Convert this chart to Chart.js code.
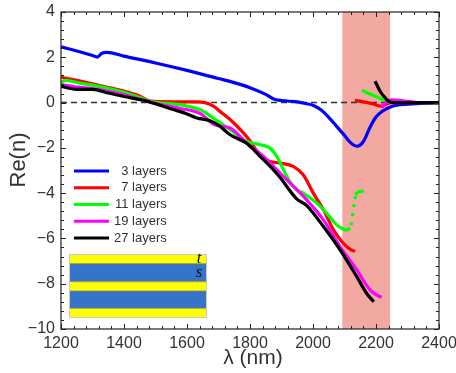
<!DOCTYPE html>
<html>
<head>
<meta charset="utf-8">
<script src="https://cdn.jsdelivr.net/npm/chart.js@4.4.1/dist/chart.umd.min.js"></script>
<style>
  html, body { margin: 0; padding: 0; background: #fff; }
</style>
</head>
<body>
<canvas id="chart" width="456" height="373"></canvas>
<script>
// wavelength (nm) and Re(n) for each stack
const nm3 = [1200,1250,1300,1315,1330,1345,1400,1500,1600,1700,1750,1800,1850,1875,1900,1950,1980,2000,2025,2050,2075,2100,2120,2140,2160,2180,2200,2220,2250,2300,2350,2400];
const re3 = [2.46,2.28,2.08,2.01,2.18,2.22,2.05,1.75,1.42,1.06,0.88,0.66,0.36,0.16,0.09,0.03,-0.05,-0.12,-0.32,-0.65,-1.05,-1.45,-1.78,-1.93,-1.72,-1.12,-0.64,-0.38,-0.17,-0.07,-0.03,-0.01];

const nm7 = [1200,1250,1290,1340,1390,1446,1480,1520,1580,1630,1657,1684,1710,1737,1779,1805,1832,1863,1895,1937,1969,2001,2033,2065,2096,2115,2133];
const re7 = [1.12,0.98,0.86,0.70,0.54,0.31,0.08,0.04,0.03,0.03,0.0,-0.16,-0.45,-0.75,-1.34,-1.78,-2.37,-2.6,-2.67,-2.82,-3.19,-4.0,-4.73,-5.62,-6.21,-6.45,-6.58];
const nm7u = [2133,2160,2190,2218,2235,2250,2400];
const re7u = [0.10,0.03,-0.06,-0.16,-0.05,0.0,0.0];

const nm11 = [1200,1215,1260,1300,1350,1400,1450,1480,1520,1578,1641,1683,1737,1789,1832,1863,1885,1906,1927,1948,1969,2012,2043,2075,2095,2107,2118];
const re11 = [0.90,0.98,0.86,0.77,0.63,0.45,0.22,0.06,-0.02,-0.10,-0.31,-0.68,-1.19,-1.71,-1.86,-2.0,-2.37,-2.96,-3.5,-3.85,-4.0,-4.44,-4.88,-5.4,-5.58,-5.62,-5.55];
const nm11d = [2122,2126,2130,2134,2138,2144,2150,2156];
const re11d = [-5.35,-4.95,-4.55,-4.2,-4.02,-3.95,-3.92,-3.92];
const nm11u = [2155,2185,2218,2240,2250];
const re11u = [0.54,0.36,0.16,0.03,0.0];

const nm19 = [1200,1250,1300,1350,1400,1450,1480,1520,1578,1641,1684,1710,1737,1789,1842,1874,1927,1980,2033,2086,2139,2181,2205,2218];
const re19 = [0.80,0.68,0.62,0.50,0.34,0.15,0.04,-0.10,-0.26,-0.48,-0.95,-1.05,-1.12,-1.78,-2.37,-2.82,-3.55,-4.3,-5.18,-6.36,-7.39,-8.27,-8.52,-8.6];
const nm19u = [2218,2234,2250,2275,2300,2330];
const re19u = [-0.22,0.04,0.12,0.10,0.05,0.0];

const nm27 = [1200,1230,1250,1300,1350,1400,1450,1472,1520,1557,1600,1631,1673,1700,1737,1789,1832,1874,1895,1948,1980,2033,2086,2139,2170,2193];
const re27 = [0.72,0.62,0.58,0.58,0.42,0.27,0.13,0.06,-0.14,-0.31,-0.50,-0.68,-0.80,-1.0,-1.42,-1.80,-2.37,-2.96,-3.3,-4.25,-4.55,-5.47,-6.5,-7.69,-8.42,-8.8];
const nm27u = [2197,2205,2213,2225,2238,2250,2300,2350,2400];
const re27u = [0.94,0.72,0.50,0.28,0.08,0.0,0.0,0.0,0.0];

const labels = ['3 layers', '7 layers', '11 layers', '19 layers', '27 layers'];
const colors = ['#0000ff', '#ff0000', '#00ff00', '#ff00ff', '#000000'];
const bandNm = [2093, 2245];

const FONT = "'Liberation Sans', Arial, sans-serif";

function pts(xs, ys) {
  return xs.map((x, i) => ({ x: x, y: ys[i] }));
}

function curve(xs, ys, color, order, label) {
  return {
    label: label,
    data: pts(xs, ys),
    borderColor: color,
    backgroundColor: color,
    borderWidth: 3.2,
    pointRadius: 0,
    cubicInterpolationMode: 'monotone',
    order: order
  };
}

const datasets = [
  curve(nm27, re27, colors[4], 1, labels[4]),
  curve(nm27u, re27u, colors[4], 1),
  curve(nm19, re19, colors[3], 2, labels[3]),
  curve(nm19u, re19u, colors[3], 2),
  curve(nm11, re11, colors[2], 3, labels[2]),
  curve(nm11u, re11u, colors[2], 3),
  {
    data: pts(nm11d, re11d),
    showLine: false,
    pointRadius: 1.8,
    pointBorderWidth: 0,
    pointBackgroundColor: colors[2],
    order: 3
  },
  curve(nm7, re7, colors[1], 4, labels[1]),
  curve(nm7u, re7u, colors[1], 4),
  curve(nm3, re3, colors[0], 5, labels[0]),
  {
    data: pts([1200, 2400], [0, 0]),
    borderColor: '#333',
    borderWidth: 1.5,
    borderDash: [6, 4],
    pointRadius: 0,
    order: 10
  }
];

const decorations = {
  id: 'decorations',
  beforeDatasetsDraw(chart) {
    const { ctx, chartArea: a, scales: { x } } = chart;
    const x0 = x.getPixelForValue(bandNm[0]);
    const x1 = x.getPixelForValue(bandNm[1]);
    ctx.save();
    ctx.fillStyle = '#f1a9a2';
    ctx.fillRect(x0, a.top, x1 - x0, a.bottom - a.top);
    ctx.restore();
  },
  afterDraw(chart) {
    const { ctx, chartArea: a, scales: { x, y } } = chart;
    ctx.save();

    // frame and inward ticks on all four sides
    ctx.strokeStyle = '#222';
    ctx.lineWidth = 1.2;
    ctx.strokeRect(a.left, a.top, a.right - a.left, a.bottom - a.top);
    ctx.lineWidth = 1;
    ctx.beginPath();
    for (let i = 0; i <= 30; i++) {
      const px = Math.round(x.getPixelForValue(1200 + i * 40)) + 0.5;
      const len = i % 5 === 0 ? 5 : 3;
      ctx.moveTo(px, a.bottom); ctx.lineTo(px, a.bottom - len);
      ctx.moveTo(px, a.top); ctx.lineTo(px, a.top + len);
    }
    for (let i = 0; i <= 35; i++) {
      const py = Math.round(y.getPixelForValue(-10 + i * 0.4)) + 0.5;
      const len = i % 5 === 0 ? 5 : 3;
      ctx.moveTo(a.left, py); ctx.lineTo(a.left + len, py);
      ctx.moveTo(a.right, py); ctx.lineTo(a.right - len, py);
    }
    ctx.stroke();

    // axis titles
    ctx.fillStyle = '#333';
    ctx.font = '22px ' + FONT;
    ctx.textAlign = 'center';
    ctx.textBaseline = 'middle';
    ctx.save();
    ctx.translate(19, 160);
    ctx.rotate(-Math.PI / 2);
    ctx.fillText('Re(n)', 0, 0);
    ctx.restore();
    ctx.font = '21px ' + FONT;
    ctx.fillText('\u03bb (nm)', 253, 358);

    // legend
    const entries = chart.data.datasets.filter(d => d.label);
    entries.sort((p, q) => labels.indexOf(p.label) - labels.indexOf(q.label));
    ctx.font = '13px ' + FONT;
    let textW = 0;
    entries.forEach(d => { textW = Math.max(textW, ctx.measureText(d.label).width); });
    ctx.textAlign = 'right';
    entries.forEach((d, i) => {
      const ly = 171 + i * 16.75;
      ctx.strokeStyle = d.borderColor;
      ctx.lineWidth = 3;
      ctx.beginPath();
      ctx.moveTo(74, ly); ctx.lineTo(109, ly);
      ctx.stroke();
      ctx.fillStyle = '#333';
      ctx.fillText(d.label, 114 + textW, ly);
    });

    // layer stack sketch
    const L = 69.5, R = 206.5;
    const rows = [[254.5, 263.7, '#ffff00'], [263.7, 281.7, '#3574c9'], [281.7, 291, '#ffff00'], [291, 308.3, '#3574c9'], [308.3, 317.5, '#ffff00']];
    rows.forEach(r => {
      ctx.fillStyle = r[2];
      ctx.fillRect(L, r[0], R - L, r[1] - r[0]);
    });
    ctx.strokeStyle = '#8a8a50';
    ctx.lineWidth = 0.8;
    ctx.beginPath();
    [263.7, 281.7, 291, 308.3].forEach(v => { ctx.moveTo(L, v); ctx.lineTo(R, v); });
    ctx.stroke();
    ctx.strokeStyle = '#c8c8c8';
    ctx.lineWidth = 1;
    ctx.strokeRect(L, 254.5, R - L, 63);
    ctx.fillStyle = '#111';
    ctx.font = 'italic 17px "Liberation Serif", "Times New Roman", serif';
    ctx.textAlign = 'center';
    ctx.textBaseline = 'alphabetic';
    ctx.fillText('t', 199, 263);
    ctx.fillText('s', 199, 277);

    ctx.restore();
  }
};

const chart = new Chart(document.getElementById('chart').getContext('2d'), {
  type: 'line',
  data: { datasets: datasets },
  options: {
    responsive: false,
    animation: false,
    layout: { padding: { left: 0, right: 17, top: 12, bottom: 0 } },
    plugins: { legend: { display: false }, tooltip: { enabled: false } },
    scales: {
      x: {
        type: 'linear',
        min: 1200,
        max: 2400,
        grid: { display: false, drawTicks: false },
        border: { display: false },
        ticks: {
          stepSize: 200,
          padding: 5,
          color: '#333',
          font: { family: FONT, size: 16 },
          callback: v => String(v)
        },
        afterFit(scale) {
          scale.height = 44;
          scale.paddingLeft = 0;
          scale.paddingRight = 0;
        }
      },
      y: {
        min: -10,
        max: 4,
        grid: { display: false, drawTicks: false },
        border: { display: false },
        ticks: {
          stepSize: 2,
          padding: 6,
          color: '#333',
          font: { family: FONT, size: 16 },
          callback: v => (v < 0 ? '\u2212' + Math.abs(v) : String(v))
        },
        afterFit(scale) {
          scale.width = 61;
          scale.paddingTop = 0;
          scale.paddingBottom = 0;
        }
      }
    }
  },
  plugins: [decorations]
});
</script>
</body>
</html>
